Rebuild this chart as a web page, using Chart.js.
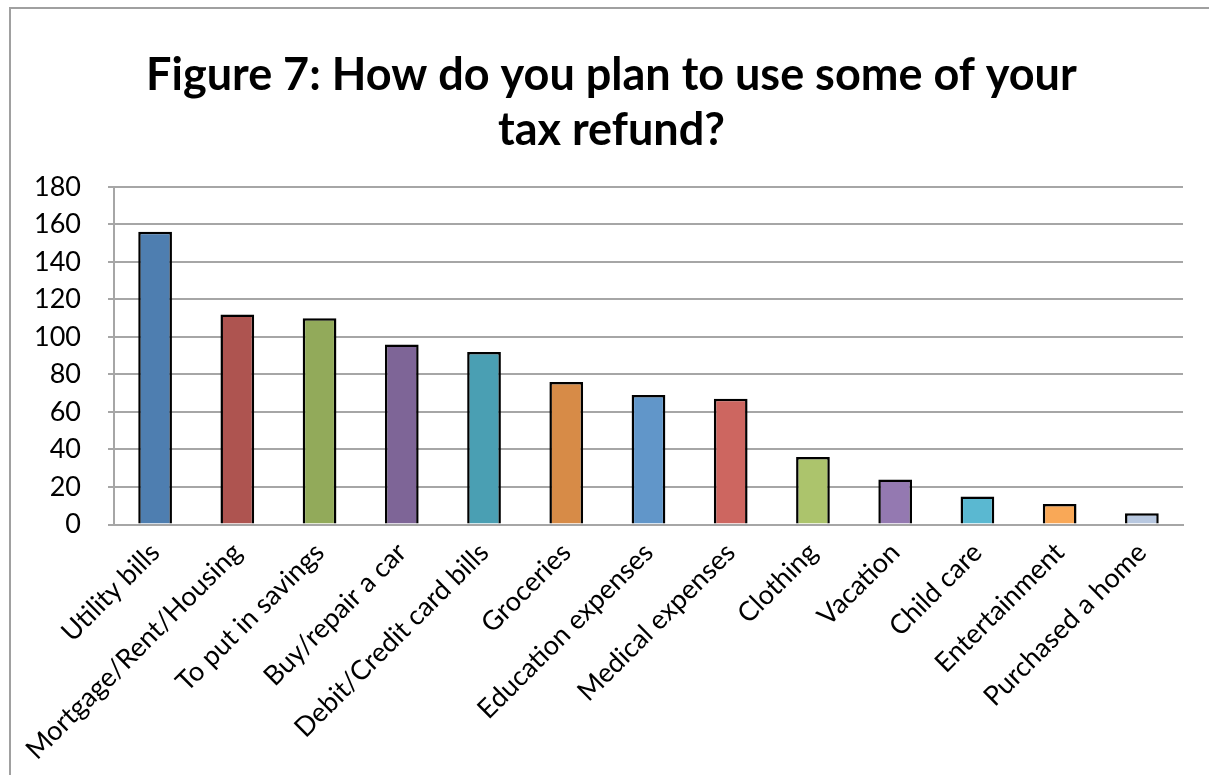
<!DOCTYPE html>
<html>
<head>
<meta charset="utf-8">
<script src="https://cdn.jsdelivr.net/npm/chart.js@4"></script>
<style>
  html, body { margin: 0; padding: 0; background: #fff; }
  #frame { position: absolute; left: 9px; top: 7px; width: 1220px; height: 800px; border-left: 2px solid #a0a0a0; border-top: 2px solid #a0a0a0; }
  #wrap { position: absolute; left: 0; top: 0; width: 1209px; height: 775px; }
</style>
</head>
<body>
<div id="frame"></div>
<div id="wrap"><canvas id="grafico"></canvas></div>
<script>
const categorias = ['Utility bills', 'Mortgage/Rent/Housing', 'To put in savings', 'Buy/repair a car',
  'Debit/Credit card bills', 'Groceries', 'Education expenses', 'Medical expenses', 'Clothing',
  'Vacation', 'Child care', 'Entertainment', 'Purchased a home'];
const respostas = [156, 112, 110, 96, 92, 76, 69, 67, 36, 24, 15, 11, 6];
const cores = ['#4e7eb0', '#ae5450', '#92aa5a', '#7e6597', '#4a9fb3', '#d78b47', '#6196c9',
  '#cd6660', '#acc46c', '#9479b1', '#5ab8d1', '#f9a857', '#b8c8e0'];
const ticksY = [0, 20, 40, 60, 80, 100, 120, 140, 160, 180];
// espaços à esquerda para centralizar o título como no original
const titulo = ['   Figure 7: How do you plan to use some of your', '   tax refund?'];

const ctx = document.getElementById('grafico');

new Chart(ctx, {
  type: 'bar',
  data: {
    labels: categorias,
    datasets: [{
      data: respostas,
      backgroundColor: cores,
      borderColor: '#000',
      borderWidth: 2.5,
      borderSkipped: 'bottom',
      barPercentage: 0.41,
      categoryPercentage: 1
    }]
  },
  options: {
    responsive: true,
    maintainAspectRatio: false,
    animation: false,
    layout: { padding: { left: 7, right: 26, top: 20, bottom: 5 } },
    plugins: {
      legend: { display: false },
      tooltip: { enabled: false },
      title: {
        display: true,
        text: titulo,
        color: '#000',
        font: { family: 'Lato', size: 45, weight: 'bold', lineHeight: 1.22 },
        padding: { top: 28, bottom: 29 }
      }
    },
    scales: {
      x: {
        grid: { display: false },
        border: { color: '#a6a6a6', width: 2 },
        ticks: {
          color: '#000',
          maxRotation: 45,
          minRotation: 45,
          autoSkip: false,
          padding: 4,
          font: { family: 'Lato', size: 27 }
        }
      },
      y: {
        min: 0,
        max: 180,
        afterBuildTicks: (axis) => { axis.ticks = ticksY.map(v => ({ value: v })); },
        grid: { color: '#a6a6a6', lineWidth: 2, tickLength: 6 },
        border: { color: '#a6a6a6', width: 2 },
        ticks: {
          color: '#000',
          padding: 27,
          font: { family: 'Lato', size: 27 }
        }
      }
    }
  }
});
</script>
</body>
</html>
